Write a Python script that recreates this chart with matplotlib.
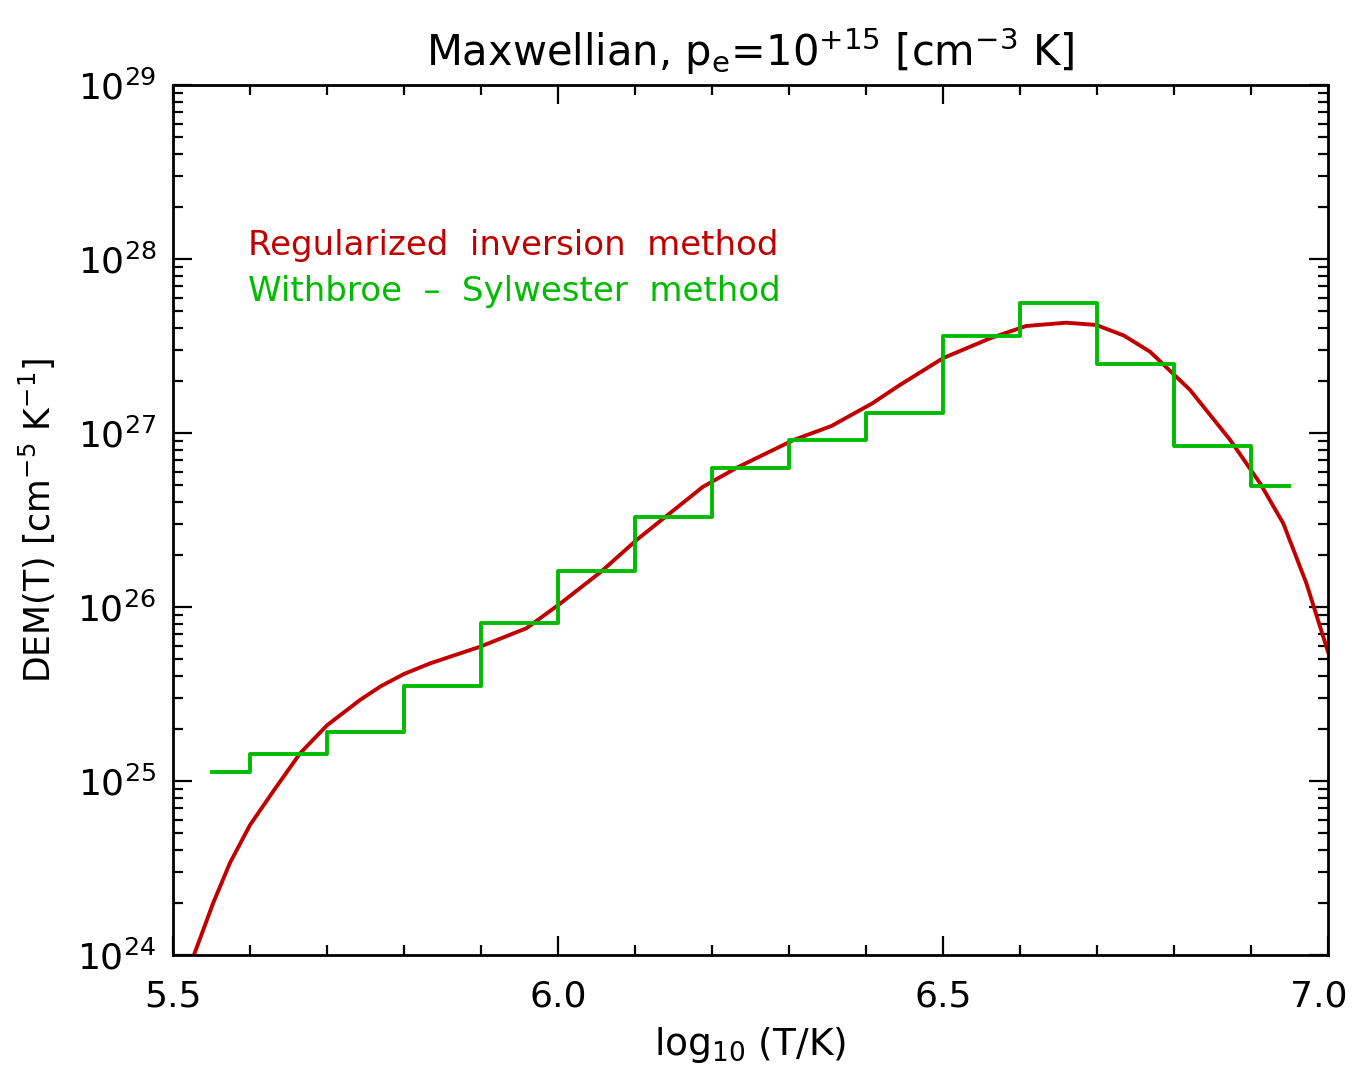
import matplotlib
matplotlib.use("Agg")
import matplotlib.pyplot as plt
import matplotlib.transforms as mtransforms
import numpy as np
from matplotlib.ticker import LogLocator, FixedLocator, LogFormatterMathtext

# regularized inversion curve (log10 T, log10 DEM)
reg_logt = [5.52, 5.528, 5.552, 5.574, 5.600, 5.630, 5.665, 5.700, 5.743, 5.770,
            5.800, 5.834, 5.899, 5.959, 6.003, 6.056, 6.102, 6.140, 6.188, 6.232,
            6.306, 6.355, 6.408, 6.444, 6.500, 6.561, 6.608, 6.660, 6.699, 6.735,
            6.769, 6.821, 6.873, 6.912, 6.942, 6.972, 7.000]
reg_logdem = [23.92, 24.01, 24.297, 24.53, 24.747, 24.94, 25.159, 25.32, 25.466, 25.545,
              25.615, 25.676, 25.772, 25.878, 26.02, 26.203, 26.385, 26.52, 26.69, 26.80,
              26.96, 27.04, 27.17, 27.276, 27.43, 27.544, 27.615, 27.634, 27.621, 27.56,
              27.467, 27.247, 26.96, 26.71, 26.48, 26.136, 25.743]

# Withbroe - Sylwester step values (bin edges and log10 DEM)
ws_edges = [5.55, 5.6, 5.7, 5.8, 5.9, 6.0, 6.1, 6.2, 6.3, 6.4, 6.5, 6.6, 6.7, 6.8, 6.9, 6.95]
ws_logdem = [25.053, 25.155, 25.28, 25.544, 25.906, 26.209, 26.517, 26.797, 26.958,
             27.117, 27.56, 27.747, 27.397, 26.925, 26.695]

red = '#c00000'
green = '#00bb00'

plt.rcParams['font.family'] = 'DejaVu Sans'
plt.rcParams['mathtext.default'] = 'regular'

fig = plt.figure(figsize=(13.53, 10.67), dpi=100)
ax = fig.add_axes([0.1279, 0.105, 0.8536, 0.8153])

ax.plot(reg_logt, 10.0 ** np.array(reg_logdem), color=red, lw=2.8)
ws_vals = list(10.0 ** np.array(ws_logdem))
ax.plot(ws_edges, ws_vals + [ws_vals[-1]], drawstyle='steps-post', color=green, lw=2.8)

ax.set_yscale('log')
ax.set_xlim(5.5, 7.0)
ax.set_ylim(1e24, 1e29)

ax.xaxis.set_major_locator(FixedLocator([5.5, 6.0, 6.5, 7.0]))
ax.xaxis.set_minor_locator(FixedLocator(np.arange(5.6, 7.0, 0.1)))
ax.set_xticklabels(['5.5', '6.0', '6.5', '7.0'])
ax.yaxis.set_major_locator(LogLocator(base=10, numticks=10))
ax.yaxis.set_major_formatter(LogFormatterMathtext())
ax.yaxis.set_minor_locator(LogLocator(base=10, subs=np.arange(2, 10), numticks=20))

ax.tick_params(which='both', direction='in', top=True, right=True, width=1.6)
ax.tick_params(which='major', length=14)
ax.tick_params(which='minor', length=7)
ax.tick_params(axis='y', labelsize=26, pad=12)
ax.tick_params(axis='x', labelsize=26, pad=18)
for s in ax.spines.values():
    s.set_linewidth(2)

# nudge the last x label so it stays inside the figure
last = ax.get_xticklabels()[-1]
last.set_transform(last.get_transform() +
                   mtransforms.ScaledTranslation(-0.09, 0, fig.dpi_scale_trans))

ax.set_title('Maxwellian, p$_e$=10$^{+15}$ [cm$^{-3}$ K]', fontsize=30, pad=14)
ax.set_xlabel('log$_{10}$ (T/K)', fontsize=27, labelpad=8)
ax.set_ylabel('DEM(T) [cm$^{-5}$ K$^{-1}$]', fontsize=25, labelpad=14)

ax.text(0.065, 0.815, 'Regularized  inversion  method', transform=ax.transAxes,
        color=red, fontsize=24.5, va='center')
ax.text(0.065, 0.763, 'Withbroe  \u2013  Sylwester  method', transform=ax.transAxes,
        color=green, fontsize=24.5, va='center')

fig.savefig('out.png', dpi=100, facecolor='white')
